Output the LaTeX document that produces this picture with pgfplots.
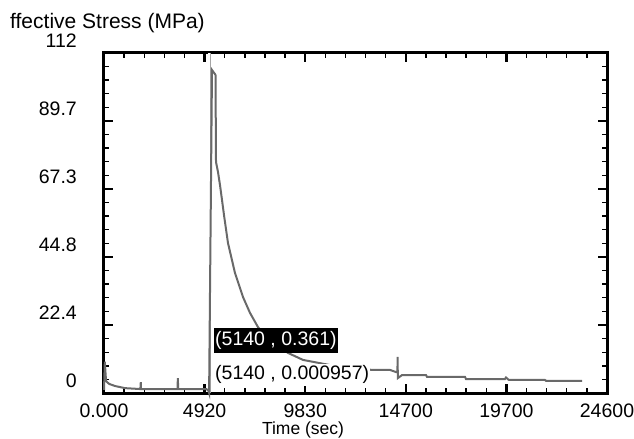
\documentclass[border=0pt]{standalone}
\usepackage{fontspec}
\setmainfont{Liberation Sans}
\usepackage{pgfplots}
\pgfplotsset{compat=1.18}
\definecolor{curve}{RGB}{105,105,105}
\definecolor{cursorc}{RGB}{165,165,165}
\pgfplotstableread{
x y
0 1.0
40 10.3
100 3.9
250 3.0
540 2.3
1030 1.6
1780 1.3
1800 3.6
1810 1.3
3600 1.3
3610 4.9
3630 1.3
5000 1.3
5100 0.9
5140 0.001
5282 106.4
5453 104.8
5478 76.1
5575 72.8
5673 68.5
5771 63.6
5869 58.6
6064 49.4
6407 39.5
6798 31.6
7140 26.4
7531 21.7
8119 17.5
8999 13.2
9732 10.9
11053 9.2
13107 7.6
13987 7.6
14281 6.9
14350 6.9
14360 11.9
14370 4.9
14574 5.9
15748 5.9
15797 5.3
17655 5.3
17704 4.6
19612 4.6
19661 5.1
19800 4.3
21568 4.3
21617 4.0
23378 4.0
}\stressdata
\begin{document}
\begin{tikzpicture}
\path[use as bounding box] (-104bp,-46bp) rectangle (530bp,393bp);
\begin{axis}[
  scale only axis, width=503bp, height=340bp,
  at={(0,0)}, anchor=south west,
  xmin=0, xmax=24600, ymin=0, ymax=112,
  scaled x ticks=false, scaled y ticks=false,
  xtick={0,4920,9840,14760,19680,24600},
  xticklabels={0.000,4920,9830,14700,19700,24600},
  ytick={0,22.4,44.8,67.2,89.6,112},
  yticklabels={0,22.4,44.8,67.3,89.7,112},
  minor x tick num=4, minor y tick num=4,
  tick align=inside,
  major tick length=9bp, minor tick length=5bp,
  major tick style={line width=2.5bp, black},
  minor tick style={line width=1.4bp, black},
  axis line style={line width=3bp},
  tick label style={font=\fontsize{19.5bp}{22bp}\selectfont, inner sep=0pt},
  xticklabel style={anchor=north, yshift=-11bp},
  yticklabel style={anchor=east, xshift=-27bp, yshift=12.5bp},
  clip=false,
]
\draw[cursorc, line width=0.9bp, double=white, double distance=1.3bp] (axis cs:5140,0) -- (axis cs:5140,112);
\addplot[curve, line width=2bp, mark=none, line join=miter] table[x=x, y=y] {\stressdata};
\node[fill=black, text=white, anchor=south west, inner xsep=1bp, inner ysep=0pt, minimum height=25bp, font=\fontsize{19.5bp}{22bp}\selectfont] at (axis cs:5380,13.2) {(5140 , 0.361)};
\node[fill=white, anchor=south west, inner xsep=1bp, inner ysep=0pt, minimum height=22bp, font=\fontsize{19.5bp}{22bp}\selectfont] at (axis cs:5380,2.3) {(5140 , 0.000957)};
\end{axis}
\node[anchor=base west, inner sep=0pt, font=\fontsize{21bp}{24bp}\selectfont] at (-94bp,364bp) {ffective Stress (MPa)};
\node[anchor=base, inner sep=0pt, font=\fontsize{17.5bp}{20bp}\selectfont] at (199bp,-41.5bp) {Time (sec)};
\end{tikzpicture}
\end{document}
